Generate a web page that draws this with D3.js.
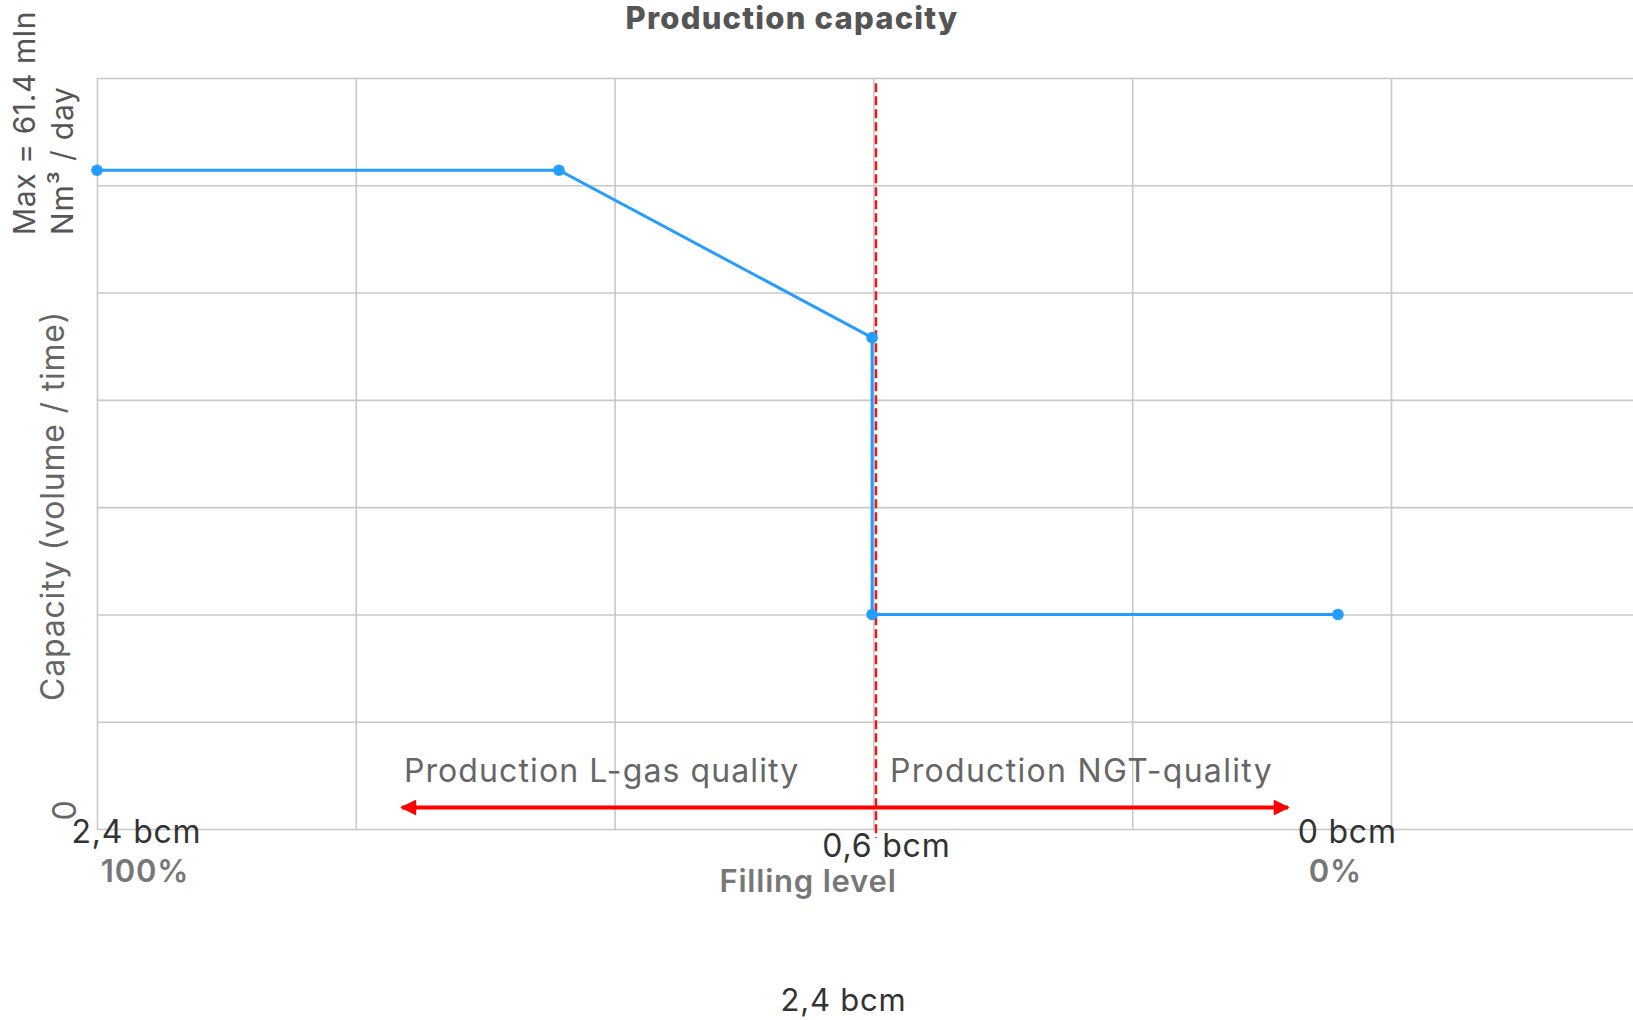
<!DOCTYPE html>
<html>
<head>
<meta charset="utf-8">
<script src="https://cdn.jsdelivr.net/npm/d3@7"></script>
<style>
  body { margin: 0; background: #fff; }
  text { font-family: Inter, "Noto Sans", sans-serif; letter-spacing: 0.8px; }
  .grid line { stroke: #c8c8c8; stroke-width: 1.6; }
  .grid .domain { display: none; }
</style>
</head>
<body>
<svg id="chart"></svg>
<script>
// capacity curve (x in grid units 0..60, y in 0..70, max = 61.4)
var curveX = [0, 17.85, 29.95, 29.95, 47.95];
var curveY = [61.4, 61.4, 45.8, 20, 20];

// switch from L-gas to NGT quality
var switchX = 30.1;

// arrow under the curve
var arrowX = [11.7, 46.1];
var arrowY = 2;

var fillTickValues = [0, 30, 48];
var fillTickLabels = ["2,4 bcm", "0,6 bcm", "0 bcm"];
var pctTickValues = [0, 48];
var pctTickLabels = ["100%", "0%"];

var xGrid = [0, 10, 20, 30, 40, 50, 60];
var yGrid = [0, 10, 20, 30, 40, 50, 60, 70];

var svg = d3.select("#chart")
  .attr("width", 1633)
  .attr("height", 1020);

// note: "top" is reserved on window, so use plot* names
var plotLeft = 97, plotTop = 78, plotBottom = 829;

var x = d3.scaleLinear().domain([0, 60]).range([plotLeft, plotLeft + 6 * 258.8]);
var y = d3.scaleLinear().domain([0, 70]).range([plotBottom, plotTop]);

// grid
svg.append("g")
  .attr("class", "grid")
  .attr("transform", "translate(0," + plotBottom + ")")
  .call(d3.axisBottom(x).tickValues(xGrid).tickSize(-(plotBottom - plotTop)).tickFormat(""));

svg.append("g")
  .attr("class", "grid")
  .attr("transform", "translate(" + plotLeft + ",0)")
  .call(d3.axisLeft(y).tickValues(yGrid).tickSize(-(1633 - plotLeft)).tickFormat(""));

// title
svg.append("text")
  .attr("x", 792).attr("y", 29)
  .attr("text-anchor", "middle")
  .style("font-size", "31px").style("font-weight", 800).style("fill", "#555")
  .style("letter-spacing", "1.2px")
  .text("Production capacity");

// dashed switch line
svg.append("line")
  .attr("x1", x(switchX)).attr("x2", x(switchX))
  .attr("y1", y(69.5)).attr("y2", plotBottom + 9)
  .style("stroke", "#f01414").style("stroke-width", 2.4)
  .style("stroke-dasharray", "9,4");

// curve
var pts = curveX.map(function(d, i) { return [d, curveY[i]]; });

svg.append("path")
  .datum(pts)
  .attr("d", d3.line().x(function(d) { return x(d[0]); }).y(function(d) { return y(d[1]); }))
  .style("fill", "none").style("stroke", "#239dff").style("stroke-width", 3);

svg.selectAll(".pt")
  .data(pts)
  .enter().append("circle")
  .attr("class", "pt")
  .attr("cx", function(d) { return x(d[0]); })
  .attr("cy", function(d) { return y(d[1]); })
  .attr("r", 5.8)
  .style("fill", "#239dff");

// double arrow
var defs = svg.append("defs");
defs.append("marker")
  .attr("id", "head")
  .attr("viewBox", "0 0 10 10")
  .attr("refX", 9).attr("refY", 5)
  .attr("markerWidth", 4.4).attr("markerHeight", 4)
  .attr("orient", "auto-start-reverse")
  .append("path")
  .attr("d", "M0,0L10,5L0,10z")
  .style("fill", "#ff0000");

svg.append("line")
  .attr("x1", x(arrowX[0]) + 2).attr("x2", x(arrowX[1]) - 2)
  .attr("y1", y(arrowY)).attr("y2", y(arrowY))
  .style("stroke", "#ff0000").style("stroke-width", 4)
  .attr("marker-start", "url(#head)")
  .attr("marker-end", "url(#head)");

// region labels
svg.append("text")
  .attr("x", x(11.86)).attr("y", y(4.4))
  .style("font-size", "32px").style("fill", "#666")
  .style("letter-spacing", "1.1px")
  .text("Production L-gas quality");

svg.append("text")
  .attr("x", x(30.64)).attr("y", y(4.4))
  .style("font-size", "32px").style("fill", "#666")
  .style("letter-spacing", "1.3px")
  .text("Production NGT-quality");

// x tick labels
var fillDx = [39.5, 13, 8], fillDy = [14, 28, 14];
svg.selectAll(".fill-tick")
  .data(fillTickValues)
  .enter().append("text")
  .attr("class", "fill-tick")
  .attr("x", function(d, i) { return x(d) + fillDx[i]; })
  .attr("y", function(d, i) { return plotBottom + fillDy[i]; })
  .attr("text-anchor", "middle")
  .style("font-size", "32px").style("fill", "#333")
  .text(function(d, i) { return fillTickLabels[i]; });

var pctDx = [48, -4];
svg.selectAll(".pct-tick")
  .data(pctTickValues)
  .enter().append("text")
  .attr("class", "pct-tick")
  .attr("x", function(d, i) { return x(d) + pctDx[i]; })
  .attr("y", plotBottom + 53)
  .attr("text-anchor", "middle")
  .style("font-size", "31px").style("font-weight", 600).style("fill", "#777")
  .text(function(d, i) { return pctTickLabels[i]; });

svg.append("text")
  .attr("x", 808).attr("y", 892)
  .attr("text-anchor", "middle")
  .style("font-size", "31px").style("font-weight", 600).style("fill", "#777")
  .text("Filling level");

svg.append("text")
  .attr("x", 843.5).attr("y", 1011)
  .attr("text-anchor", "middle")
  .style("font-size", "31px").style("fill", "#333")
  .text("2,4 bcm");

// y axis labels
svg.append("text")
  .attr("transform", "translate(35,235) rotate(-90)")
  .style("font-size", "30px").style("fill", "#555")
  .style("letter-spacing", "0.6px")
  .text("Max = 61.4 mln");

svg.append("text")
  .attr("transform", "translate(73,235) rotate(-90)")
  .style("font-size", "30px").style("fill", "#555")
  .text("Nm³ / day");

svg.append("text")
  .attr("transform", "translate(64,506) rotate(-90)")
  .attr("text-anchor", "middle")
  .style("font-size", "32px").style("fill", "#666")
  .text("Capacity (volume / time)");

svg.append("text")
  .attr("transform", "translate(76,810) rotate(-90)")
  .attr("text-anchor", "middle")
  .style("font-size", "32px").style("fill", "#666")
  .text("0");
</script>
</body>
</html>
